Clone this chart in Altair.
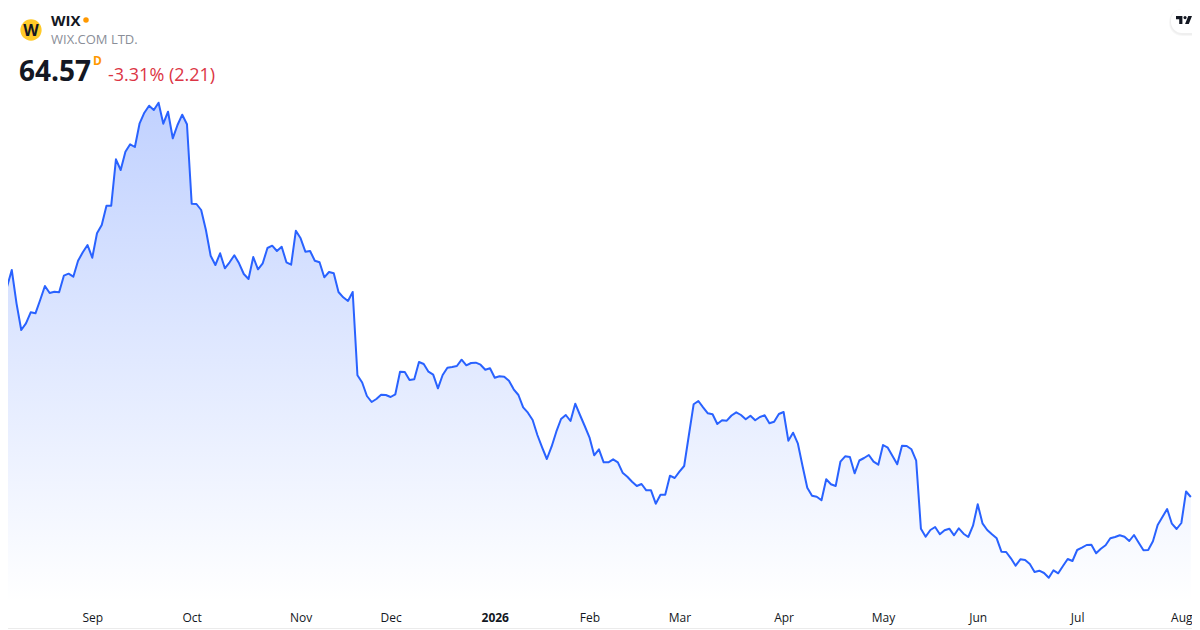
import altair as alt
import pandas as pd

symbol = "WIX"
company = "WIX.COM LTD."
last_price = "64.57"
change_text = "-3.31% (2.21)"

tick_index = [19, 40, 63, 82, 104, 124, 143, 165, 186, 206, 227, 249]
tick_text = ["Sep", "Oct", "Nov", "Dec", "2026", "Feb", "Mar", "Apr", "May", "Jun", "Jul", "Aug"]

prices = [
    148.29, 148.69, 155.37, 142.05, 131.37, 134.05, 138.45, 138.05, 143.37, 148.97,
    146.17, 146.69, 146.45, 153.09, 153.89, 152.69, 159.09, 162.45, 165.37, 160.29,
    170.05, 173.37, 181.09, 181.09, 199.65, 195.37, 202.69, 205.65, 204.57, 214.05,
    218.29, 221.09, 219.37, 222.29, 213.89, 218.69, 208.05, 213.37, 217.49, 213.65,
    181.89, 181.77, 179.37, 171.37, 161.09, 157.37, 162.05, 156.05, 158.45, 161.25,
    158.05, 153.77, 151.77, 160.57, 155.65, 158.05, 164.17, 165.09, 162.97, 164.69,
    158.45, 157.49, 171.09, 168.05, 162.69, 162.97, 159.09, 158.45, 152.45, 154.57,
    154.05, 146.57, 144.45, 142.97, 146.57, 113.25, 110.37, 104.97, 102.57, 103.77,
    105.49, 105.37, 104.57, 105.65, 114.69, 114.57, 111.37, 111.65, 118.57, 117.77,
    114.69, 113.49, 108.05, 113.37, 116.29, 116.57, 116.97, 119.49, 117.25, 118.17,
    118.29, 117.49, 115.49, 116.05, 112.29, 112.85, 112.69, 111.09, 107.65, 105.37,
    100.45, 98.29, 95.37, 89.37, 84.45, 79.77, 84.69, 90.69, 95.77, 97.37,
    94.97, 101.89, 97.37, 92.97, 88.45, 81.25, 83.65, 78.45, 78.45, 79.65,
    78.45, 74.29, 72.69, 70.69, 68.97, 69.77, 67.25, 67.25, 61.89, 65.49,
    65.49, 73.09, 72.17, 74.69, 76.97, 89.37, 101.65, 102.97, 100.45, 98.05,
    97.65, 93.77, 95.25, 95.09, 97.17, 98.45, 97.37, 95.65, 97.09, 95.25,
    96.57, 97.25, 94.05, 94.69, 97.77, 98.57, 87.09, 90.29, 86.05, 76.97,
    68.29, 65.09, 64.69, 63.25, 71.65, 69.65, 68.97, 78.69, 80.85, 80.57,
    74.05, 79.17, 80.17, 81.37, 78.69, 77.49, 85.37, 84.29, 80.97, 77.65,
    85.09, 84.97, 83.65, 79.09, 51.89, 48.69, 51.37, 52.57, 49.69, 51.25,
    51.89, 49.25, 52.05, 49.89, 48.57, 53.09, 61.65, 54.05, 51.37, 49.65,
    48.05, 42.69, 42.57, 40.05, 37.09, 39.65, 39.37, 37.77, 34.57, 35.09,
    34.17, 32.29, 35.25, 34.05, 36.97, 39.77, 38.97, 43.37, 44.29, 45.37,
    45.49, 42.05, 43.85, 45.25, 48.05, 48.57, 49.25, 48.69, 46.97, 49.37,
    46.29, 43.25, 43.37, 46.85, 53.37, 56.57, 59.77, 53.89, 51.77, 54.17,
    66.78, 64.57,
]

df = pd.DataFrame({"i": list(range(len(prices))), "price": prices})

W = 1184
PLOT_H = 595
FONT = "Open Sans"
Y_MIN, Y_MAX = 22.17, 260.17

df["base"] = Y_MIN

x_scale = alt.Scale(domain=[1.204, 251.25], nice=False, zero=False)
y_scale = alt.Scale(domain=[Y_MIN, Y_MAX], nice=False, zero=False)

label_map = "{" + ",".join(f"'{i}':'{t}'" for i, t in zip(tick_index, tick_text)) + "}"
x_axis = alt.Axis(
    values=tick_index, labelExpr=f"{label_map}[datum.value]", title=None,
    grid=False, domain=False, ticks=False, labelPadding=9,
    labelFont=FONT, labelFontSize=12, labelColor="#131722",
    labelOverlap=False, labelFlush=False, labelBound=False, labelAngle=0,
    labelFontWeight={"condition": {"test": "datum.value == 104", "value": "bold"}, "value": "normal"},
)

area = alt.Chart(df).mark_area(
    clip=True,
    line=False,
    color=alt.Gradient(
        gradient="linear", x1=0, x2=0, y1=0, y2=1,
        stops=[alt.GradientStop(color="rgba(41,98,255,0.29)", offset=0),
               alt.GradientStop(color="rgba(41,98,255,0.0)", offset=1)],
    ),
).encode(
    x=alt.X("i:Q", scale=x_scale, axis=x_axis),
    y=alt.Y("price:Q", scale=y_scale, axis=None),
    y2="base:Q",
)
line = alt.Chart(df).mark_line(clip=True, color="#2962FF", strokeWidth=2, strokeJoin="round").encode(
    x=alt.X("i:Q", scale=x_scale), y=alt.Y("price:Q", scale=y_scale),
)


def v(n):
    return alt.value(n)


def text(s, px, py, size, color, weight="normal", **kw):
    d = pd.DataFrame({"t": [s]})
    return alt.Chart(d).mark_text(
        align=kw.pop("align", "left"), baseline="alphabetic", font=FONT,
        fontSize=size, color=color, fontWeight=weight, **kw
    ).encode(x=v(px - 8), y=v(py - 8), text="t:N")


def dot(px, py, size, color):
    return alt.Chart(pd.DataFrame({"a": [0]})).mark_circle(size=size, color=color, opacity=1).encode(x=v(px - 8), y=v(py - 8))


def pill(x0, x1, y0, y1, color, opacity, radius):
    return alt.Chart(pd.DataFrame({"a": [0]})).mark_rect(
        color=color, opacity=opacity, cornerRadius=radius
    ).encode(x=v(x0 - 8), x2=v(x1 - 8), y=v(y0 - 8), y2=v(y1 - 8))


tv_path = ("M-0.2 -0.5H-1V-0.1H-0.6V0.5H-0.2ZM0.6 0.5H0.133L0.533 -0.5H1Z"
           "M0.133 -0.1A0.2 0.2 0 1 0 0.133 -0.5A0.2 0.2 0 0 0 0.133 -0.1Z")
tv_logo = alt.Chart(pd.DataFrame({"a": [0]})).mark_point(
    shape=tv_path, size=256, filled=True, color="#131722", opacity=1
).encode(x=v(1184 - 8), y=v(20 - 8))

bottom_border = alt.Chart(pd.DataFrame({"a": [0]})).mark_rule(color="#EBEBEB", strokeWidth=1).encode(
    x=v(0), x2=v(W), y=v(628.5 - 8)
)

layers = [
    area, line,
    pill(1169, 1204, 9, 36, "#000000", 0.03, 13),
    pill(1170, 1204, 9, 35, "#000000", 0.03, 12),
    pill(1171, 1204, 9, 33, "#ffffff", 1, 11),
    tv_logo,
    bottom_border,
    dot(31, 30, 452, "#FFCA28"),
    text("W", 31, 36, 16, "#131722", "bold", align="center"),
    text(symbol, 51, 26, 15, "#131722", "bold"),
    dot(86, 20, 30, "#FF9800"),
    text(company, 51, 44, 13, "#8a8e98"),
    text(last_price, 19, 81, 28, "#131722", "bold"),
    text("D", 93, 65, 12, "#FF9800", "bold"),
    text(change_text, 108, 81, 18, "#DC3545"),
]

chart = alt.layer(*layers).properties(
    width=W, height=PLOT_H, padding={"left": 0, "top": 0, "right": 0, "bottom": 27}, background="white",
    autosize=alt.AutoSizeParams(type="none"),
).configure_view(stroke=None)

chart.save("out.html", embed_options={"renderer": "svg", "actions": False})
